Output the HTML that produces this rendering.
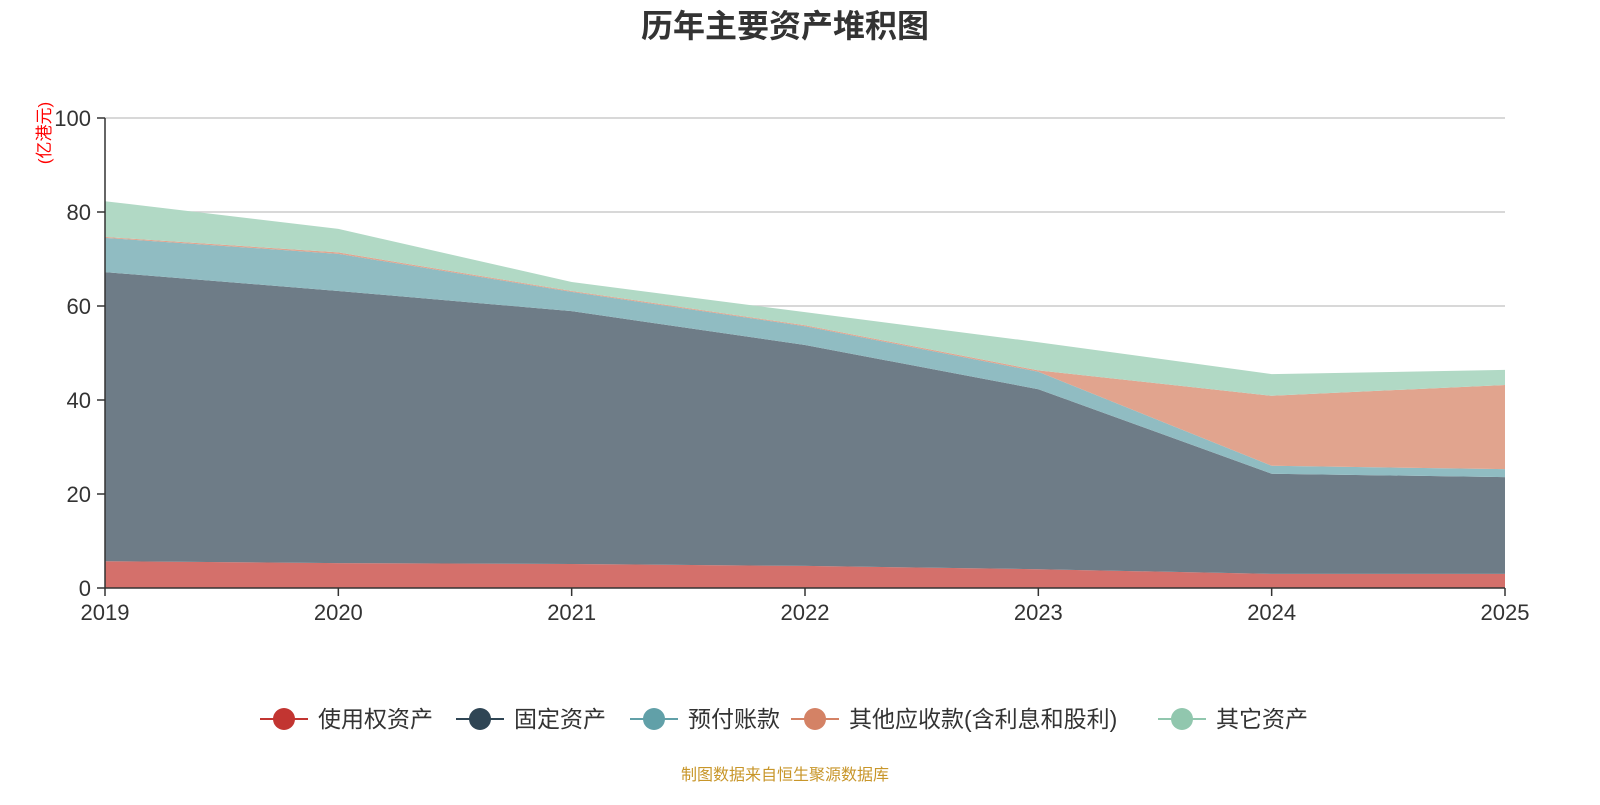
<!DOCTYPE html>
<html><head><meta charset="utf-8"><style>
body{margin:0;background:#fff;font-family:"Liberation Sans","Noto Sans CJK SC",sans-serif;}
</style></head><body>
<svg id="chart" width="1600" height="800" xmlns="http://www.w3.org/2000/svg" style="font-family:'Liberation Sans','Noto Sans CJK SC',sans-serif">
<text x="785" y="37" text-anchor="middle" font-size="32" font-weight="bold" fill="#333">历年主要资产堆积图</text>
<text transform="translate(50,133) rotate(-90)" text-anchor="middle" font-size="17" fill="#ff0000">(亿港元)</text>
<g id="grid"></g><g id="areas"></g><g id="axes"></g>
<g id="legend"></g>
<text x="785" y="780" text-anchor="middle" font-size="16" fill="#c8962a">制图数据来自恒生聚源数据库</text>
</svg>
<script>
const categories=["2019","2020","2021","2022","2023","2024","2025"];
const rouAssets=[5.7,5.3,5.1,4.7,4.0,3.0,3.0];
const fixedAssets=[61.5,57.9,53.8,47.0,38.3,21.3,20.6];
const prepayments=[7.3,7.9,4.1,4.0,3.7,1.7,1.7];
const otherReceivables=[0.2,0.3,0.2,0.2,0.3,14.9,17.9];
const otherAssets=[7.6,5.0,1.9,2.8,6.0,4.6,3.2];
const yTicks=[0,20,40,60,80,100];
const seriesNames=["使用权资产","固定资产","预付账款","其他应收款(含利息和股利)","其它资产"];
const NS="http://www.w3.org/2000/svg";
const x0=105,x1=1505,y0=588,y1=118;
const xs=i=>x0+(x1-x0)*i/(categories.length-1);
const ys=v=>y0-(y0-y1)*v/100;
function mk(t,a,p){const e=document.createElementNS(NS,t);for(const k in a)e.setAttribute(k,a[k]);p.appendChild(e);return e;}
const grid=document.getElementById('grid'),areas=document.getElementById('areas'),axes=document.getElementById('axes'),legend=document.getElementById('legend');
yTicks.forEach(t=>{
 if(t>0){const l=mk('line',{x1:x0,x2:x1,y1:ys(t),y2:ys(t),stroke:'#ccc','stroke-width':1.5},grid);
 
 }
 const tk=mk('line',{x1:x0-8,x2:x0,y1:ys(t),y2:ys(t),stroke:'#333','stroke-width':1.5},axes);
 
 
 const tx=mk('text',{x:x0-14,y:ys(t)+8,'text-anchor':'end','font-size':22,fill:'#333'},axes);tx.textContent=t;
 
 
});
const series=[rouAssets,fixedAssets,prepayments,otherReceivables,otherAssets];
const fills=["#d4706b","#6e7c87","#90bcc2","#e1a48e","#b1d9c5"];
const lineCols=["#c23531","#2f4554","#61a0a8","#d48265","#91c7ae"];
let base=categories.map(()=>0);
series.forEach((s,k)=>{
 const top=base.map((b,i)=>b+s[i]);
 let d='M'+top.map((v,i)=>xs(i)+','+ys(v)).join(' L');
 for(let i=categories.length-1;i>=0;i--)d+=' L'+xs(i)+','+ys(base[i]);
 const p=mk('path',{d:d+'Z',fill:fills[k],stroke:'none'},areas);
 
 
 base=top;
});
const ya=mk('line',{x1:x0,x2:x0,y1:y1,y2:y0,stroke:'#333','stroke-width':1.5},axes);


const xa=mk('line',{x1:x0,x2:x1,y1:y0,y2:y0,stroke:'#333','stroke-width':1.5},axes);


categories.forEach((c,i)=>{
 const tk=mk('line',{x1:xs(i),x2:xs(i),y1:y0,y2:y0+8,stroke:'#333','stroke-width':1.5},axes);
 
 
 const t=mk('text',{x:xs(i),y:y0+32,'text-anchor':'middle','font-size':22,fill:'#333'},axes);t.textContent=c;
 
 
});
const legX=[260,456,630,791,1158];
seriesNames.forEach((n,k)=>{
 const g=mk('g',{},legend);
 
 
 const x=legX[k];
 mk('line',{x1:x,x2:x+48,y1:719,y2:719,stroke:lineCols[k],'stroke-width':2},g);
 mk('circle',{cx:x+24,cy:719,r:11,fill:lineCols[k]},g);
 const t=mk('text',{x:x+58,y:727,'font-size':23,fill:'#333'},g);t.textContent=n;
});
</script>
</body></html>
